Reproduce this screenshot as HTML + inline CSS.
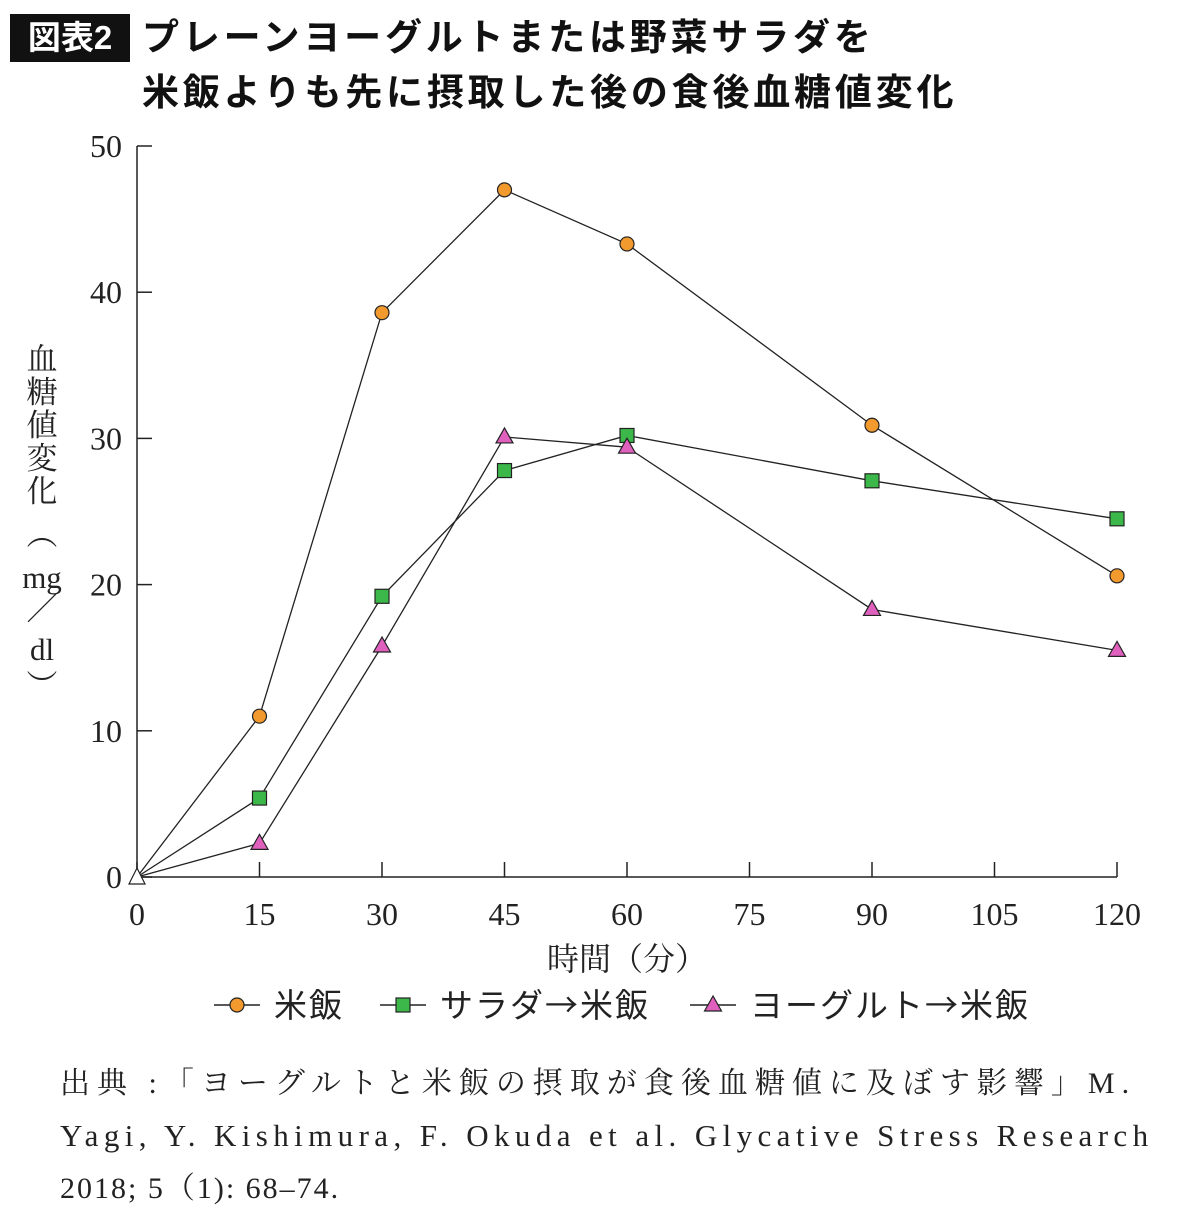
<!DOCTYPE html>
<html><head><meta charset="utf-8"><style>
body{margin:0;background:#fff;width:1180px;height:1210px;overflow:hidden;position:relative;font-family:"Liberation Serif","Noto Serif CJK SC",serif}
.t{position:absolute;white-space:nowrap}
</style></head><body>
<div class="t" style="left:10px;top:14px;width:120px;height:48px;background:#111;color:#fff;font:bold 33px 'Liberation Sans','Noto Sans CJK JP',sans-serif;line-height:48px;text-align:center">図表2</div>
<div class="t" style="left:142px;top:10px;font:bold 37px 'Liberation Sans','Noto Sans CJK JP',sans-serif;letter-spacing:3.8px;line-height:55px;color:#111">プレーンヨーグルトまたは野菜サラダを<br>米飯よりも先に摂取した後の食後血糖値変化</div>
<svg id="c" width="1180" height="1210" style="position:absolute;left:0;top:0"></svg>
<div class="t" style="left:60px;top:1058px;font-size:30px;line-height:52px;color:#222;font-family:'Liberation Serif','Noto Serif CJK JP',serif"><span style="letter-spacing:7px">出典 :「ヨーグルトと米飯の摂取が食後血糖値に及ぼす影響」M.</span><br><span style="font-size:31px;letter-spacing:5.4px">Yagi, Y. Kishimura, F. Okuda et al. Glycative Stress Research</span><br><span style="letter-spacing:2px">2018; 5（1): 68–74.</span></div>
<script>
const xs=[0,15,30,45,60,90,120];
const rice=[0,11.0,38.6,47.0,43.3,30.9,20.6];
const salad=[0,5.4,19.2,27.8,30.2,27.1,24.5];
const yogurt=[0,2.3,15.8,30.1,29.4,18.3,15.5];
const xTicks=[0,15,30,45,60,75,90,105,120];
const yTicks=[0,10,20,30,40,50];
const X=v=>137+v*980/120, Y=v=>877-v*731/50;
const s=document.getElementById('c'),NS='http://www.w3.org/2000/svg';
function el(t,a,txt){const e=document.createElementNS(NS,t);for(const k in a)e.setAttribute(k,a[k]);if(txt!==undefined)e.textContent=txt;s.appendChild(e);return e;}
let e=el('line',{x1:137,y1:146,x2:137,y2:877,stroke:'#222','stroke-width':1.5});

e=el('line',{x1:137,y1:877,x2:1117,y2:877,stroke:'#222','stroke-width':1.5});

yTicks.forEach(v=>{el('line',{x1:137,y1:Y(v),x2:152,y2:Y(v),stroke:'#222','stroke-width':1.5});
e=el('text',{x:122,y:Y(v)+11,'text-anchor':'end','font-size':32,fill:'#222'},v);
});
xTicks.forEach(v=>{el('line',{x1:X(v),y1:877,x2:X(v),y2:862,stroke:'#222','stroke-width':1.5});
e=el('text',{x:X(v),y:925,'text-anchor':'middle','font-size':32,fill:'#222'},v);
});
e=el('text',{x:627,y:970,'text-anchor':'middle','font-size':32,fill:'#222','font-family':"'Liberation Serif','Noto Serif CJK JP',serif"},'時間（分）');

['血','糖','値','変','化','︵','mg','／','dl','︶'].forEach((c,i)=>{const yy=[370,403,436,469,502,545,588,620,660,697][i];
e=el('text',{x:42,y:yy,'text-anchor':'middle','font-size':31,fill:'#222','font-family':"'Liberation Serif','Noto Serif CJK JP',serif"},c);
});
function marker(kind,x,y,fill){let m;
if(kind==='c')m=el('circle',{cx:x,cy:y,r:7,fill,stroke:'#222','stroke-width':1.2});
else if(kind==='s')m=el('rect',{x:x-7,y:y-7,width:14,height:14,fill,stroke:'#222','stroke-width':1.2});
else m=el('polygon',{points:`${x},${y-9} ${x-8.5},${y+6} ${x+8.5},${y+6}`,fill,stroke:'#222','stroke-width':1.2});
return m;}
[[rice,'c','#f39a2e','rice'],[salad,'s','#3cb84a','salad'],[yogurt,'t','#e060bd','yogurt']].forEach(([d,k,f,n])=>{
e=el('polyline',{points:d.map((v,i)=>X(xs[i])+','+Y(v)).join(' '),fill:'none',stroke:'#222','stroke-width':1.3});

d.forEach((v,i)=>{if(i===0)return;const m=marker(k,X(xs[i]),Y(v),f);
});});
e=el('polygon',{points:`137,868 129,884 145,884`,fill:'#fff',stroke:'#222','stroke-width':1.2});

[[214,'c','#f39a2e','米飯'],[380,'s','#3cb84a','サラダ→米飯'],[690,'t','#e060bd','ヨーグルト→米飯']].forEach(([x,k,f,t])=>{
el('line',{x1:x,y1:1005,x2:x+46,y2:1005,stroke:'#222','stroke-width':1.5});
marker(k,x+23,1005,f);
e=el('text',{x:x+60,y:1017,'font-size':33,'letter-spacing':2,fill:'#222','font-family':"'Noto Sans CJK JP',sans-serif"},t);
});
</script>
</body></html>
